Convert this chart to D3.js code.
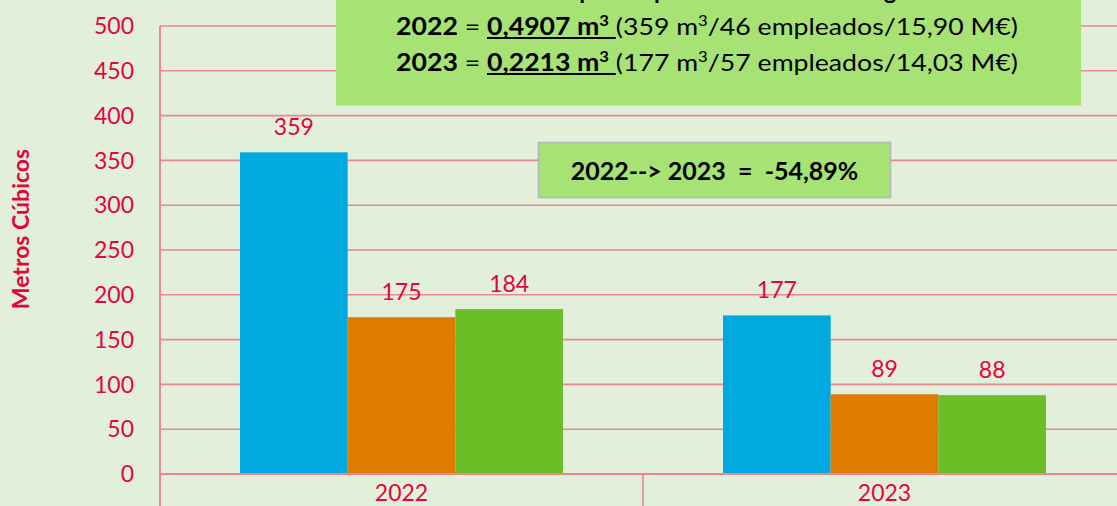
<!DOCTYPE html>
<html><head><meta charset="utf-8">
<script src="https://cdn.jsdelivr.net/npm/d3@7"></script>
<style>
html,body{margin:0;padding:0;background:#e2efda;overflow:hidden;}
svg{display:block;font-family:Lato,"Open Sans",sans-serif;}
</style></head>
<body>
<svg id="chart" width="1117" height="506"></svg>
<script>
const categories = ["2022", "2023"];
const seriesBlue = [359, 177];
const seriesOrange = [175, 89];
const seriesGreen = [184, 88];
const seriesColors = ["#00a9e0", "#e07b00", "#6abf25"];
const yTicks = [0, 50, 100, 150, 200, 250, 300, 350, 400, 450, 500];
const yTitle = "Metros Cúbicos";
const boxTitle = "Consumo por empleado/año/millón negocio";
const boxLines = [
  {year: "2022", ratio: "0,4907 m", detail: ["(359 m", "/46 empleados/15,90 M€)"]},
  {year: "2023", ratio: "0,2213 m", detail: ["(177 m", "/57 empleados/14,03 M€)"]}
];
const changeText = "2022--> 2023  =  -54,89%";

const red = "#e3053c";
const grid = "#e8878f";
const svg = d3.select("#chart");

const x = d3.scaleBand().domain(categories).range([160, 1126]).paddingInner(0).paddingOuter(0);
const xs = d3.scaleBand().domain([0,1,2]).range([0, x.bandwidth()]).paddingInner(0).paddingOuter(0.743);
const y = d3.scaleLinear().domain([0, 500]).range([474, 26]);

// grid lines
svg.append("g").selectAll("line").data(yTicks.filter(d=>d>0)).join("line")
  .attr("x1", 160).attr("x2", 1117).attr("y1", d=>y(d)).attr("y2", d=>y(d))
  .attr("stroke", grid).attr("stroke-width", 1.6);

// y tick labels
svg.append("g").selectAll("text").data(yTicks).join("text")
  .attr("x", 134).attr("y", d=>y(d)).attr("dy", "0.36em")
  .attr("text-anchor", "end").attr("fill", red).attr("font-size", 23)
  .text(d=>d);

// y title
svg.append("text").attr("transform", "translate(29,229) rotate(-90)")
  .attr("text-anchor", "middle").attr("fill", red).attr("font-size", 23).attr("font-weight", "bold")
  .text(yTitle);

// bars
const series = [seriesBlue, seriesOrange, seriesGreen];
const bars = [];
categories.forEach((c, i) => series.forEach((s, j) => bars.push({c, j, v: s[i]})));
svg.append("g").selectAll("rect").data(bars).join("rect")
  .attr("x", d=>x(d.c)+xs(d.j)).attr("width", xs.bandwidth())
  .attr("y", d=>y(d.v)).attr("height", d=>y(0)-y(d.v))
  .attr("fill", d=>seriesColors[d.j]);
svg.append("g").selectAll("text").data(bars).join("text")
  .attr("x", d=>x(d.c)+xs(d.j)+xs.bandwidth()/2).attr("y", d=>y(d.v)-17.5)
  .attr("text-anchor", "middle").attr("fill", red).attr("font-size", 23)
  .text(d=>d.v);

// axes lines
svg.append("line").attr("x1",160).attr("x2",160).attr("y1",y(500)).attr("y2",506).attr("stroke",grid).attr("stroke-width",2);
svg.append("line").attr("x1",160).attr("x2",1117).attr("y1",y(0)).attr("y2",y(0)).attr("stroke",grid).attr("stroke-width",2.2);
svg.append("g").selectAll("line").data(categories).join("line")
  .attr("x1", d=>x(d)+x.bandwidth()).attr("x2", d=>x(d)+x.bandwidth())
  .attr("y1", y(0)).attr("y2", 506).attr("stroke", grid).attr("stroke-width", 1.6);
svg.append("g").selectAll("text").data(categories).join("text")
  .attr("x", d=>x(d)+x.bandwidth()/2).attr("y", 501)
  .attr("text-anchor","middle").attr("fill", red).attr("font-size", 23)
  .text(d=>d);

// top box
svg.append("rect").attr("x",336).attr("y",-5).attr("width",745).attr("height",110.5).attr("fill","#a6e374");
svg.append("text").attr("x", 707).attr("y", -1).attr("text-anchor","middle")
  .attr("font-size", 24).attr("font-weight","bold").attr("fill","#000").text(boxTitle);

const rowBase = [35, 71];
boxLines.forEach((b, i) => {
  const g = svg.append("g");
  const t = g.append("text").attr("x", 0).attr("y", 0)
    .attr("font-size", 24).attr("fill","#000").attr("xml:space","preserve");
  t.append("tspan").attr("font-weight","bold").text(b.year);
  t.append("tspan").text(" = ");
  t.append("tspan").attr("font-weight","bold").text(b.ratio);
  t.append("tspan").attr("font-weight","bold").attr("font-size",15).attr("dy",-9).text("3");
  t.append("tspan").attr("dy",9).text(" ");
  t.append("tspan").text(b.detail[0]);
  t.append("tspan").attr("font-size",15).attr("dy",-9).text("3");
  t.append("tspan").attr("dy",9).text(b.detail[1]);
  const w = t.node().getComputedTextLength();
  const sx = 622 / w;
  g.attr("transform", `translate(396,${rowBase[i]}) scale(${sx},1)`);
  const n = t.node();
  const start = n.getStartPositionOfChar(b.year.length + 3).x;
  const end = n.getEndPositionOfChar(b.year.length + 3 + b.ratio.length + 1).x;
  g.append("line").attr("x1", start).attr("x2", end).attr("y1", 3).attr("y2", 3)
    .attr("stroke","#000").attr("stroke-width",2);
});

// change box
svg.append("rect").attr("x",538.5).attr("y",142.5).attr("width",352).attr("height",55)
  .attr("fill","#a6e374").attr("stroke","#b5b5b5").attr("stroke-width",1.5);
svg.append("text").attr("x", 714.5).attr("y", 180).attr("text-anchor","middle")
  .attr("font-size", 25).attr("font-weight","bold").attr("fill","#000").attr("xml:space","preserve")
  .text(changeText);
</script>
</body></html>
